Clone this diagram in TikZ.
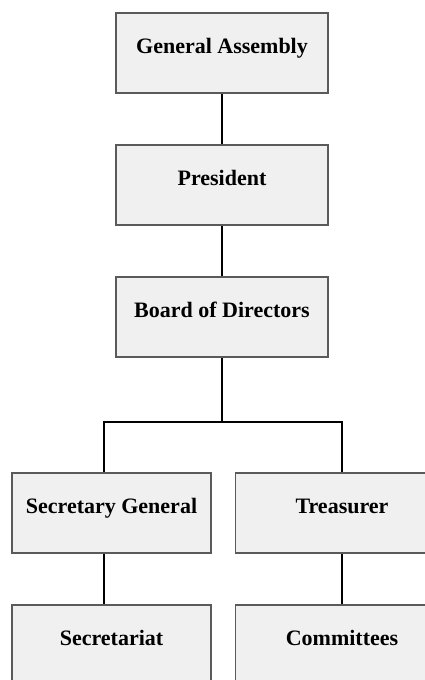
\documentclass[tikz,border=0pt]{standalone}
\usepackage{fontspec}
\setmainfont{Liberation Serif}
\definecolor{boxfill}{HTML}{F0F0F0}
\definecolor{boxline}{HTML}{5A5A5A}
\begin{document}
\begin{tikzpicture}[x=1pt,y=-1pt,
  orgbox/.style={draw=boxline,fill=boxfill,line width=1.6pt,inner sep=0pt,
    minimum height=80pt,text height=12pt,text depth=12pt,
    font=\fontsize{22}{24}\selectfont\bfseries},
  link/.style={draw=black,line width=1.3pt}]
\clip (0,0) rectangle (425,680);
\fill[white] (0,0) rectangle (425,680);
\node[orgbox,minimum width=212pt] (ga) at (222,53) {General Assembly};
\node[orgbox,minimum width=212pt] (pr) at (222,185) {President};
\node[orgbox,minimum width=212pt] (bd) at (222,317) {Board of Directors};
\node[orgbox,minimum width=199pt] (sg) at (111.5,513) {Secretary General};
\node[orgbox,minimum width=213pt] (tr) at (342,513) {Treasurer};
\node[orgbox,minimum width=199pt] (st) at (111.5,645) {Secretariat};
\node[orgbox,minimum width=213pt] (cm) at (342,645) {Committees};
\coordinate (split) at (222,422);
\draw[link] (ga.south) -- (pr.north);
\draw[link] (pr.south) -- (bd.north);
\draw[link] (bd.south) -- (split);
\draw[link] (split) -| ([xshift=-7.5pt]sg.north);
\draw[link] (split) -| (tr.north);
\draw[link] ([xshift=-7.5pt]sg.south) -- ([xshift=-7.5pt]st.north);
\draw[link] (tr.south) -- (cm.north);
\end{tikzpicture}
\end{document}
